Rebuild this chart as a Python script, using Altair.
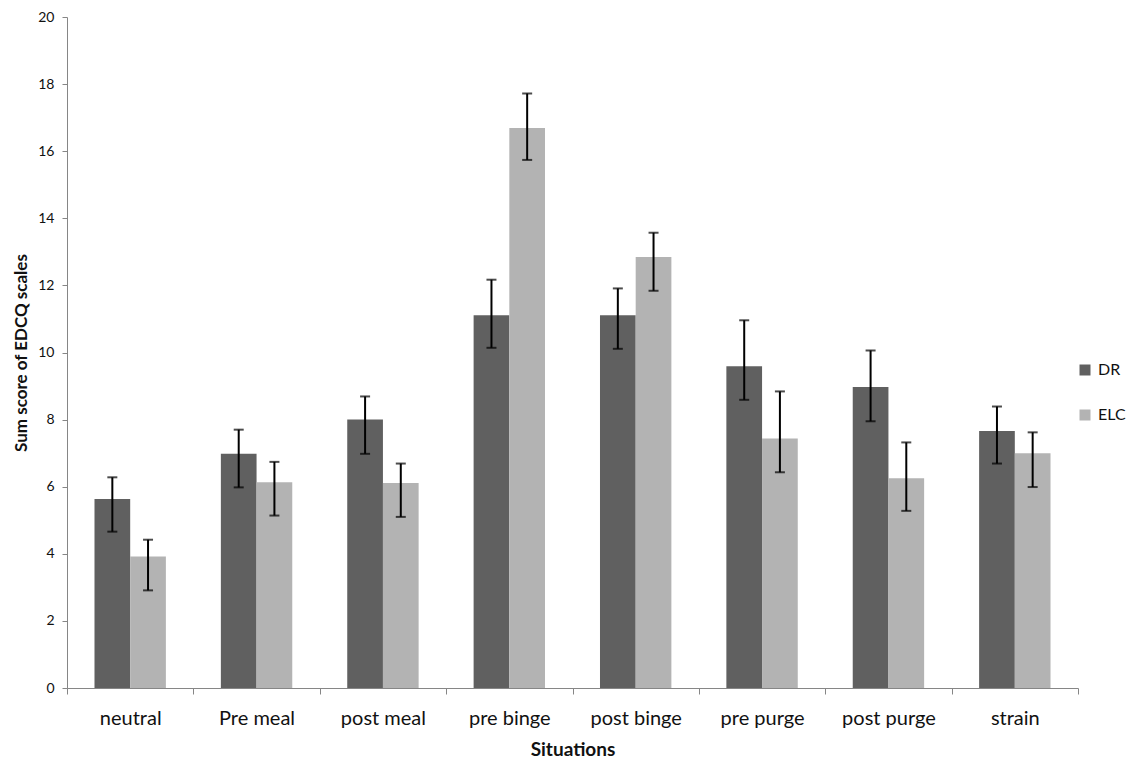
import altair as alt
import pandas as pd

categories = ["neutral", "Pre meal", "post meal", "pre binge", "post binge", "pre purge", "post purge", "strain"]
groups = ["DR", "ELC"]
dr_mean = [5.63, 6.98, 8.00, 11.11, 11.11, 9.59, 8.97, 7.66]
dr_low = [4.66, 5.98, 6.98, 10.14, 10.11, 8.59, 7.95, 6.69]
dr_high = [6.28, 7.70, 8.69, 12.17, 11.91, 10.96, 10.06, 8.39]
elc_mean = [3.92, 6.13, 6.11, 16.69, 12.85, 7.44, 6.25, 7.00]
elc_low = [2.91, 5.14, 5.10, 15.74, 11.84, 6.43, 5.28, 5.99]
elc_high = [4.42, 6.74, 6.69, 17.72, 13.57, 8.84, 7.32, 7.62]

rows = []
for i, c in enumerate(categories):
    rows.append({"situation": c, "group": "DR", "mean": dr_mean[i], "lo": dr_low[i], "hi": dr_high[i]})
    rows.append({"situation": c, "group": "ELC", "mean": elc_mean[i], "lo": elc_low[i], "hi": elc_high[i]})
df = pd.DataFrame(rows)

FONT = "Lato"

x = alt.X("situation:N", sort=categories, title="Situations",
          scale=alt.Scale(paddingInner=0, paddingOuter=0),
          axis=alt.Axis(labelAngle=0, labelFontSize=20, labelFont=FONT, labelColor="#111",
                        titleFontSize=19, titleFont=FONT, titleFontWeight="bold", titleColor="#111",
                        tickBand="extent", tickSize=6, tickColor="#868686", domainColor="#868686",
                        labelPadding=14, titlePadding=12, grid=False))
xoff = alt.XOffset("group:N", sort=groups, scale=alt.Scale(paddingInner=0, paddingOuter=0.77))

bars = alt.Chart(df).mark_bar(stroke=None).encode(
    x=x,
    xOffset=xoff,
    y=alt.Y("mean:Q", title="Sum score of EDCQ scales",
            scale=alt.Scale(domain=[0, 20], nice=False),
            axis=alt.Axis(values=list(range(0, 21, 2)), labelFontSize=14, labelFont=FONT, labelColor="#111",
                          titleFontSize=17, titleFont=FONT, titleFontWeight="bold", titleColor="#111",
                          tickSize=5, tickColor="#868686", domainColor="#868686", labelPadding=8,
                          titlePadding=7, grid=False)),
    color=alt.Color("group:N", sort=groups,
                    scale=alt.Scale(domain=groups, range=["#606060", "#b3b3b3"]),
                    legend=alt.Legend(title=None, orient="none", legendX=1010, legendY=345,
                                      symbolType="square", symbolSize=121, symbolStrokeWidth=0,
                                      labelFontSize=16, labelFont=FONT, labelColor="#111",
                                      rowPadding=29, labelOffset=5)),
)

err = alt.Chart(df).mark_rule(color="black", strokeWidth=2).encode(
    x=alt.X("situation:N", sort=categories),
    xOffset=xoff,
    y="lo:Q",
    y2="hi:Q",
)
cap_lo = alt.Chart(df).mark_tick(color="black", thickness=2, size=10).encode(
    x=alt.X("situation:N", sort=categories), xOffset=xoff, y="lo:Q")
cap_hi = alt.Chart(df).mark_tick(color="black", thickness=2, size=10).encode(
    x=alt.X("situation:N", sort=categories), xOffset=xoff, y="hi:Q")

chart = alt.layer(bars, err, cap_lo, cap_hi).properties(
    width=1011, height=671,
    background="white",
    autosize=alt.AutoSizeParams(type="none"),
    padding={"left": 59, "top": 9, "right": 50, "bottom": 70},
).configure_view(stroke=None)

chart.save("out.html", embed_options={"renderer": "svg", "actions": False})
